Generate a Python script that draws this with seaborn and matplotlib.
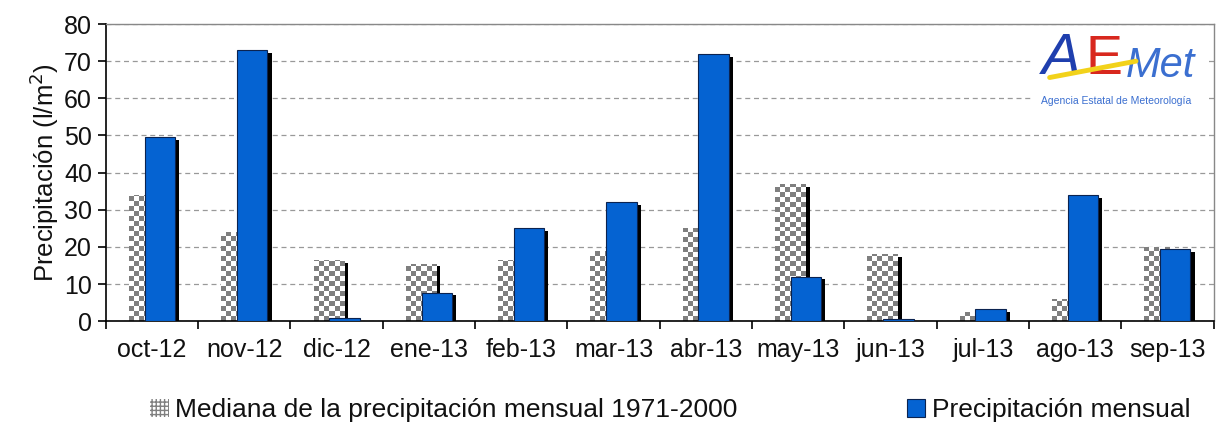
import numpy as np
import pandas as pd
import seaborn as sns
import matplotlib.pyplot as plt
import matplotlib.patheffects as pe
from matplotlib.colors import ListedColormap
from matplotlib.patches import Patch

meses = ["oct-12", "nov-12", "dic-12", "ene-13", "feb-13", "mar-13",
         "abr-13", "may-13", "jun-13", "jul-13", "ago-13", "sep-13"]
mediana = [34, 24, 16.5, 15.5, 16.5, 19, 25, 37, 18, 2.5, 6, 20]
precip = [49.5, 73, 0.8, 7.7, 25, 32, 72, 12, 0.6, 3.2, 34, 19.5]

lab_med = "Mediana de la precipitación mensual 1971-2000"
lab_pre = "Precipitación mensual"

df = pd.DataFrame({
    "mes": meses * 2,
    "valor": mediana + precip,
    "serie": [lab_med] * len(meses) + [lab_pre] * len(meses),
})

sns.set_theme(style="white")
plt.rcParams["font.family"] = ["Liberation Sans", "DejaVu Sans"]

fig = plt.figure(figsize=(12.16, 4.37), dpi=100)
ax = fig.add_axes([0.087, 0.265, 0.911, 0.68])

sns.barplot(data=df, x="mes", y="valor", hue="serie", dodge=True, width=0.66,
            palette=["white", "#0563d2"], saturation=1, legend=False, ax=ax)

shadow = [pe.SimplePatchShadow(offset=(3, -2), shadow_rgbFace="black", alpha=1.0), pe.Normal()]
checker_cmap = ListedColormap(["#7f7f7f", "white"])

# median bars: move right, checker texture, behind the blue ones
cell_y = 80 / 300 * 5
for p in ax.containers[0]:
    p.set_x(p.get_x() + 0.08)
    p.set_edgecolor("none")
    p.set_zorder(2)
    p.set_path_effects(shadow)
    x0, w, h = p.get_x(), p.get_width(), p.get_height()
    nr = max(int(np.ceil(h / cell_y)), 1)
    nc = 6
    chk = (np.indices((nr, nc)).sum(axis=0) % 2).astype(float)
    im = ax.imshow(chk, cmap=checker_cmap, vmin=0, vmax=1,
                   extent=(x0, x0 + w, nr * cell_y, 0),
                   aspect="auto", interpolation="nearest", zorder=2.2)
    im.set_clip_path(p)

for p in ax.containers[1]:
    p.set_x(p.get_x() - 0.08)
    p.set_edgecolor("#0b2350")
    p.set_linewidth(0.8)
    p.set_zorder(3)
    p.set_path_effects(shadow)

ax.set_xlim(-0.5, len(meses) - 0.5)
ax.set_ylim(0, 80)
ax.set_yticks(range(0, 81, 10))
ax.yaxis.grid(True, linestyle=(0, (4, 3)), color="#999999", linewidth=0.9)
ax.set_axisbelow(True)

ax.set_xticks(np.arange(len(meses)))
ax.set_xticklabels(meses)
ax.set_xticks(np.arange(len(meses) + 1) - 0.5, minor=True)
ax.tick_params(axis="x", which="major", length=0, labelsize=18, pad=12, colors="#111111")
ax.tick_params(axis="x", which="minor", length=6, width=1.2, direction="out", color="black", bottom=True)
ax.tick_params(axis="y", length=6, width=1.2, direction="out", left=True, labelsize=18,
               pad=4, colors="#111111")
ax.tick_params(axis="y", color="black")

ax.set_xlabel("")
ax.set_ylabel("Precipitación (l/m$^2$)", fontsize=18.5, color="#111111", labelpad=2)

for s in ["left", "bottom"]:
    ax.spines[s].set_color("black")
    ax.spines[s].set_linewidth(1.2)
for s in ["top", "right"]:
    ax.spines[s].set_color("#888888")
    ax.spines[s].set_linewidth(1.0)

# logo
ax.add_patch(plt.Rectangle((0.835, 0.70), 0.16, 0.29, transform=ax.transAxes,
                           facecolor="white", edgecolor="none", zorder=4))
ax.text(0.845, 0.79, "A", transform=ax.transAxes, fontsize=42, color="#1f3fae",
        style="italic", zorder=5, ha="left", va="bottom")
ax.text(0.884, 0.79, "E", transform=ax.transAxes, fontsize=40, color="#d8281e",
        zorder=5, ha="left", va="bottom")
ax.text(0.921, 0.79, "Met", transform=ax.transAxes, fontsize=30, color="#3b6fd0",
        style="italic", zorder=5, ha="left", va="bottom")
ax.plot([0.852, 0.93], [0.82, 0.875], transform=ax.transAxes, color="#f2d21a",
        lw=3.5, zorder=5.5, solid_capstyle="round")
ax.text(0.912, 0.725, "Agencia Estatal de Meteorología", transform=ax.transAxes,
        fontsize=7.5, color="#3b6fd0", zorder=5, ha="center", va="bottom")

handles = [Patch(facecolor="white", edgecolor="#808080", hatch="++++", linewidth=0),
           Patch(facecolor="#0563d2", edgecolor="#0b2350", linewidth=0.8)]
leg = fig.legend(handles, [lab_med, lab_pre], loc="lower left", bbox_to_anchor=(0.104, -0.02),
                 ncol=2, frameon=False, fontsize=19, columnspacing=6.4, handlelength=0.7,
                 handleheight=0.7, handletextpad=0.25)
for t in leg.get_texts():
    t.set_color("#111111")

fig.savefig("out.png", dpi=100)
